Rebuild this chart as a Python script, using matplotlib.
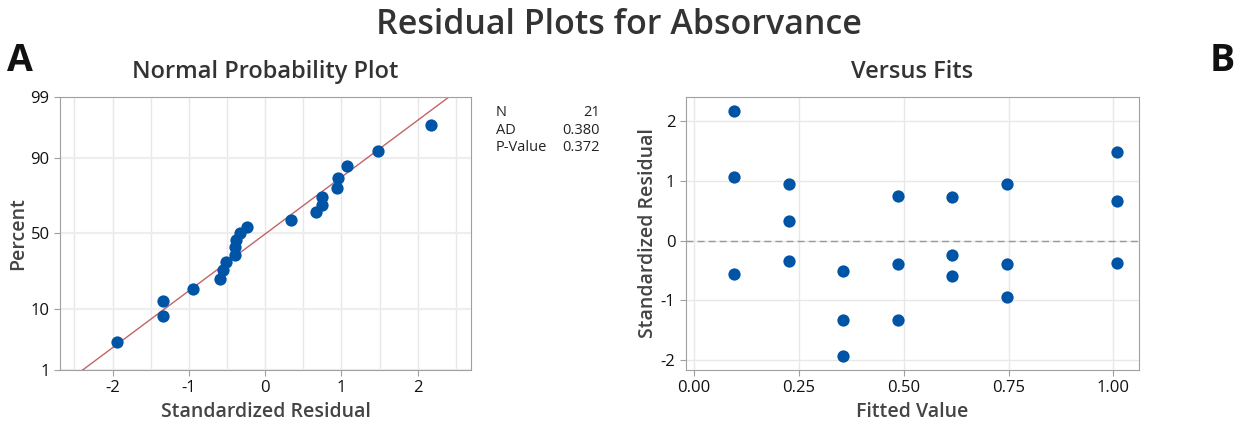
import numpy as np
import matplotlib.pyplot as plt
from statistics import NormalDist

# fitted values and standardized residuals
fits = [0.095, 0.095, 0.095,
        0.227, 0.227, 0.227,
        0.356, 0.356, 0.356,
        0.487, 0.487, 0.487,
        0.616, 0.616, 0.616,
        0.747, 0.747, 0.747,
        1.008, 1.008, 1.008]
resid = [2.175, 1.071, -0.554,
         0.947, 0.336, -0.336,
         -0.509, -1.333, -1.943,
         0.751, -0.397, -1.333,
         0.740, -0.235, -0.588,
         0.958, -0.397, -0.941,
         1.486, 0.662, -0.380]
pct_ticks = [1, 10, 50, 90, 99]
stats_names = ['N', 'AD', 'P-Value']
stats_vals = ['21', '0.380', '0.372']

plt.rcParams['font.family'] = ['Open Sans', 'DejaVu Sans']
plt.rcParams['axes.unicode_minus'] = False
blue = '#0054A6'
gridc = '#E8E8E8'
spinec = '#A0A0A0'
nd = NormalDist()

fig = plt.figure(figsize=(12.37, 4.23), dpi=100)
fig.text(0.5, 0.94, 'Residual Plots for Absorvance', ha='center', va='center',
         fontsize=24.5, fontweight='semibold', color='#333333')
fig.text(0.006, 0.855, 'A', ha='left', va='center', fontsize=27, fontweight='bold', color='#111111')
fig.text(0.998, 0.855, 'B', ha='right', va='center', fontsize=27, fontweight='bold', color='#111111')

def style(ax):
    for s in ax.spines.values():
        s.set_color(spinec)
    ax.tick_params(colors=spinec, labelcolor='#111111', labelsize=12, length=4)
    ax.set_axisbelow(True)

# ---- normal probability plot
ax1 = fig.add_axes([0.0485, 0.1253, 0.3323, 0.6454])
r = np.sort(np.array(resid))
n = len(r)
p = (np.arange(1, n + 1) - 0.3) / (n + 0.4)
z = np.array([nd.inv_cdf(v) for v in p])
mu, sd = r.mean(), r.std(ddof=1)
zlo, zhi = nd.inv_cdf(0.01), nd.inv_cdf(0.99)
xl = np.array([mu + sd * zlo, mu + sd * zhi])
ax1.plot(xl, [zlo, zhi], color='#B03030', lw=1, alpha=0.75, zorder=2)
ax1.scatter(r, z, s=78, color=blue, zorder=3, linewidths=0)
ax1.set_xlim(-2.69, 2.70)
ax1.set_ylim(zlo, zhi)
ax1.set_xticks([-2, -1, 0, 1, 2])
ax1.set_xticks(np.arange(-2.5, 2.6, 0.5), minor=True)
ax1.tick_params(axis='x', which='minor', length=0)
ax1.set_yticks([nd.inv_cdf(v / 100) for v in pct_ticks])
ax1.set_yticklabels([str(v) for v in pct_ticks])
ax1.grid(True, which='both', axis='x', color=gridc, lw=1)
ax1.grid(True, axis='y', color='#EEEEEE', lw=1.6)
style(ax1)
ax1.set_title('Normal Probability Plot', fontsize=17, fontweight='semibold', color='#333333', pad=14)
ax1.set_xlabel('Standardized Residual', fontsize=14, fontweight='semibold', color='#444444', labelpad=4)
ax1.set_ylabel('Percent', fontsize=14, fontweight='semibold', color='#444444', labelpad=2)

for i, (k, v) in enumerate(zip(stats_names, stats_vals)):
    yy = 0.733 - i * 0.0414
    fig.text(0.401, yy, k, ha='left', va='center', fontsize=10.5, color='#222222')
    fig.text(0.485, yy, v, ha='right', va='center', fontsize=10.5, color='#222222')

# ---- versus fits
ax2 = fig.add_axes([0.5543, 0.1253, 0.3665, 0.6454])
ax2.axhline(0, color='#999999', lw=1, ls=(0, (5, 3)), zorder=2)
ax2.scatter(fits, resid, s=78, color=blue, zorder=3, linewidths=0)
ax2.set_xlim(-0.020, 1.061)
ax2.set_ylim(-2.17, 2.41)
ax2.set_xticks([0, 0.25, 0.5, 0.75, 1.0])
ax2.set_xticklabels(['0.00', '0.25', '0.50', '0.75', '1.00'])
ax2.set_yticks([-2, -1, 0, 1, 2])
ax2.grid(True, color=gridc, lw=1)
style(ax2)
ax2.set_title('Versus Fits', fontsize=17, fontweight='semibold', color='#333333', pad=14)
ax2.set_xlabel('Fitted Value', fontsize=14, fontweight='semibold', color='#444444', labelpad=4)
ax2.set_ylabel('Standardized Residual', fontsize=14, fontweight='semibold', color='#444444', labelpad=2)

fig.savefig('out.png', dpi=100)
